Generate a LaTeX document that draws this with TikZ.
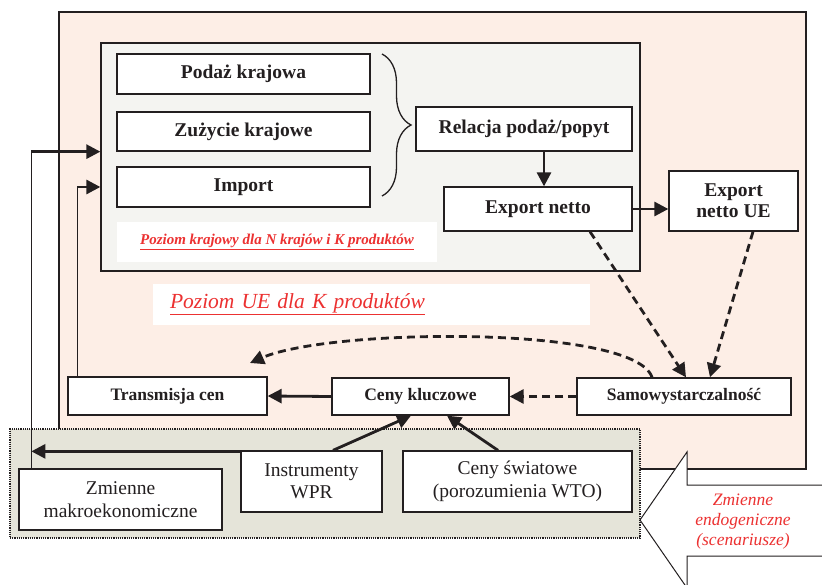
\documentclass[tikz,border=0pt]{standalone}
\usepackage{fontspec}
\setmainfont{Liberation Serif}
\usetikzlibrary{arrows.meta,positioning,decorations.pathreplacing,calc}
\definecolor{ink}{HTML}{231F20}
\definecolor{uefill}{HTML}{FDEEE6}
\definecolor{krajfill}{HTML}{F4F4F1}
\definecolor{egzofill}{HTML}{E5E4D9}
\definecolor{lblred}{HTML}{EC3131}

\begin{document}
\begin{tikzpicture}[x=1pt, y=-1pt,
		box/.style={rectangle, draw=ink, line width=1.3pt, fill=white,
				inner sep=0pt, align=center, text=ink},
		bbox/.style={box, font=\fontsize{19.5}{21}\selectfont\bfseries},
		sbox/.style={box, font=\fontsize{17.5}{20}\selectfont\bfseries},
		pbox/.style={box, font=\fontsize{19.5}{22.5}\selectfont},
		lbl/.style={rectangle, fill=white, inner sep=0pt, text=lblred},
		conn/.style={line width=1.3pt, ink},
		arr/.style={-{Triangle[length=14pt, width=14pt]}, line width=2.8pt, ink},
		darr/.style={arr, dash pattern=on 8pt off 5pt},
		]
		\useasboundingbox (0,0) rectangle (822,585);
		\clip (0,0) rectangle (822,585);

		% ---- Poziom UE ----
		\draw[conn, fill=uefill] (59,12) rectangle (806,469);

		% ---- Poziom krajowy ----
		\node[box, fill=krajfill, minimum width=539pt, minimum height=228pt]
		(krajowy) at (370.5,157) {};

		\node[bbox, minimum width=253pt, minimum height=40pt] (podaz) at (243.5,74) {Podaż krajowa};
		\node[bbox, minimum width=253pt, minimum height=39pt] (zuzycie) at (243.5,131.5) {Zużycie krajowe};
		\node[bbox, minimum width=253pt, minimum height=40pt] (import) at (243.5,187) {Import};

		\draw[conn, decorate, decoration={brace, amplitude=29pt}] (382,54) -- (382,196);

		\node[bbox, minimum width=216pt, minimum height=44pt] (relacja) at (524,129) {Relacja podaż/popyt};
		\node[bbox, minimum width=188pt, minimum height=44pt] (exnetto) at (538,209) {Export netto};
		\node[bbox, minimum width=129pt, minimum height=60pt] (exue) at (733.5,201) {Export\\netto UE};

		\node[lbl, minimum width=320pt, minimum height=40pt,
			font=\fontsize{15}{17}\selectfont\bfseries\itshape]
		(lblkraj) at (277,242) {\underline{Poziom krajowy dla N krajów i K produktów}};

		\node[lbl, inner xsep=17pt, text width=403pt, align=left, minimum height=41pt,
			font=\fontsize{21.5}{24}\selectfont\itshape]
		(lblue) at (371.5,304.5) {\underline{Poziom UE dla K produktów}};

		% ---- Ceny ----
		\node[sbox, minimum width=199pt, minimum height=38pt] (transm) at (167.5,396) {Transmisja cen};
		\node[sbox, minimum width=177pt, minimum height=37pt] (ceny) at (420.5,396.5) {Ceny kluczowe};
		\node[sbox, minimum width=214pt, minimum height=37pt] (samow) at (684,396.5) {Samowystarczalność};

		% ---- Zmienne egzogeniczne ----
		\node[box, fill=egzofill, line width=2pt, dash pattern=on 1.2pt off 1pt,
			minimum width=630pt, minimum height=109pt] (egzo) at (325,483.5) {};

		\node[pbox, minimum width=203pt, minimum height=61pt] (zmienne) at (120.5,499.5) {Zmienne\\makroekonomiczne};
		\node[pbox, minimum width=141pt, minimum height=61pt] (instr) at (311.5,481.5) {Instrumenty\\WPR};
		\node[pbox, minimum width=229pt, minimum height=61pt] (swiat) at (517.5,481.5) {Ceny światowe\\(porozumienia WTO)};

		% ---- Strzalki ----
		\draw[arr] ([xshift=6pt]exnetto.north |- relacja.south) -- ([xshift=6pt]exnetto.north);
		\draw[arr] (exnetto.east) -- (exnetto.east -| exue.west);

		\draw[darr] ([xshift=52pt]exnetto.south) -- ([xshift=2pt]samow.north);
		\draw[darr] ([xshift=19.5pt]exue.south) -- ([xshift=26pt]samow.north);
		\draw[darr] (samow.west) -- (ceny.east);
		\coordinate (curveend) at (250,363);
		\draw[darr] ([xshift=-32pt]samow.north) .. controls (635,325) and (330,328) .. (curveend);

		\draw[arr] (ceny.west) -- (transm.east);
		\draw[arr] ([xshift=21.5pt]instr.north) -- ([xshift=-9.5pt]ceny.south);
		\draw[arr] ([xshift=-19.5pt]swiat.north) -- ([xshift=26.5pt]ceny.south);

		\coordinate (m1) at ([xshift=13pt]zmienne.north west);
		\coordinate (m2) at (m1 |- zuzycie.south);
		\draw[conn] (m1) -- (m2);
		\draw[arr] (m2) -- (m2 -| krajowy.west);
		\draw[arr] ([yshift=-1pt]instr.north west) -- ([yshift=-1pt]instr.north west -| m1);

		\coordinate (t1) at ([xshift=10pt]transm.north west);
		\coordinate (t2) at (t1 |- import);
		\draw[conn] (t1) -- (t2);
		\draw[arr] (t2) -- (t2 -| krajowy.west);

		% ---- Duza strzalka ----
		\draw[line width=1pt, ink, fill=white]
		(640,520) -- (687,452) -- (687,485) -- (830,485) -- (830,556)
		-- (687,556) -- (687,588) -- cycle;
		\node[text=lblred, align=center, font=\fontsize{17.5}{20}\selectfont\itshape]
		(lblendo) at (743,522) {Zmienne\\endogeniczne\\(scenariusze)};

	\end{tikzpicture}
\end{document}
